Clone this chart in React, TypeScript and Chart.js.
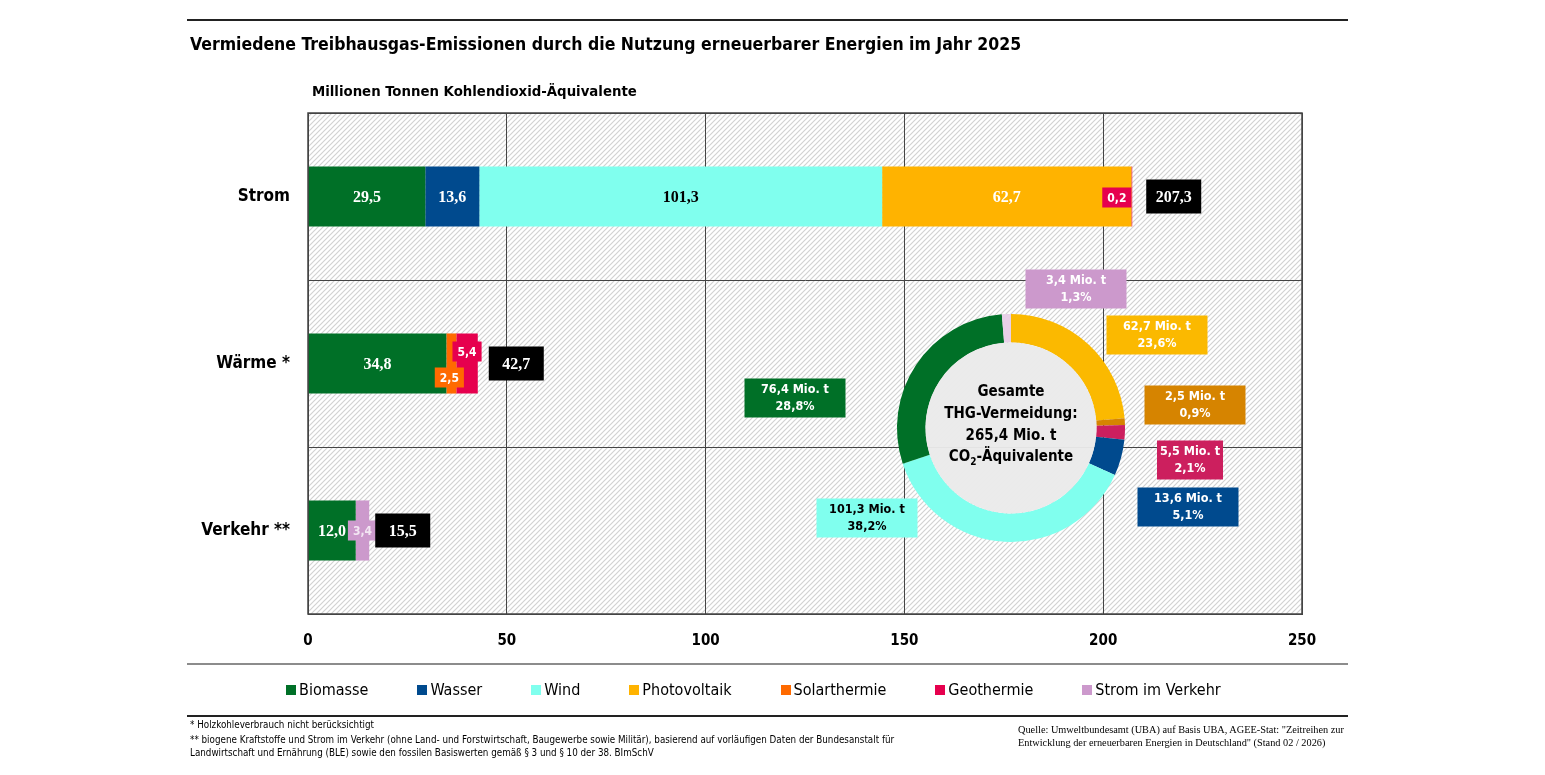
import { useEffect, useRef } from 'react'
import { Chart, registerables } from 'chart.js'

Chart.register(...registerables)

const FONT = "'Liberation Sans Narrow', 'DejaVu Sans Condensed', 'Noto Sans', sans-serif"
const SERIF = "'Liberation Serif', 'DejaVu Serif', serif"

// bar chart data (Mio. t CO2-Äquivalente)
const categories = ['Strom', 'Wärme *', 'Verkehr **']
const seriesNames = ['Biomasse', 'Wasser', 'Wind', 'Photovoltaik', 'Solarthermie', 'Geothermie', 'Strom im Verkehr']
const biomasse = [29.5, 34.8, 12.0]
const wasser = [13.6, null, null]
const wind = [101.3, null, null]
const photovoltaik = [62.7, null, null]
const solarthermie = [null, 2.5, null]
const geothermie = [0.2, 5.4, null]
const stromImVerkehr = [null, null, 3.4]
const totals = [207.3, 42.7, 15.5]
const xTicks = [0, 50, 100, 150, 200, 250]

// donut data
const donutNames = ['Photovoltaik', 'Solarthermie', 'Geothermie', 'Wasser', 'Wind', 'Biomasse', 'Strom im Verkehr']
const donutValues = [62.7, 2.5, 5.5, 13.6, 101.3, 76.4, 3.4]

const barColors = ['#007027', '#004a8e', '#80ffee', '#ffb300', '#ff6a00', '#e6004e', '#cc99cc']
const barTextColors = ['#fff', '#fff', '#000', '#fff', '#fff', '#fff', '#f3e6f3']
const donutColors = ['#fbb900', '#d68400', '#cc1f5e', '#004a8e', '#80ffee', '#007027', '#e8d0e8']
const donutBoxColors = ['#fbb900', '#d68400', '#cc1f5e', '#004a8e', '#80ffee', '#007027', '#cc99cc']
const donutTextColors = ['#fff', '#fff', '#fff', '#fff', '#000', '#fff', '#fff']

// where small segment values get their badge (offset from segment centre)
const badgeOffsets: Record<string, [number, number]> = {
  '5-0': [-15, 1],
  '4-1': [-2, 14],
  '5-1': [0, -12],
  '6-2': [0, 0],
}
// gap between bar end and total box, per category
const totalGaps = [14, 11, 6]
// donut label boxes: centre offset from donut centre, box width
const donutBoxes: [number, number, number][] = [
  [146, -93, 101],
  [184, -23, 101],
  [179, 32, 66],
  [177, 79, 101],
  [-144, 90, 101],
  [-216, -30, 101],
  [65, -139, 101],
]

const fmt = (v: number) => v.toFixed(1).replace('.', ',')

function makeHatch() {
  const c = document.createElement('canvas')
  c.width = 5
  c.height = 5
  const g = c.getContext('2d')!
  g.fillStyle = '#fff'
  g.fillRect(0, 0, 5, 5)
  g.strokeStyle = '#d2d2d2'
  g.lineWidth = 1.2
  g.beginPath()
  g.moveTo(-1, 6)
  g.lineTo(6, -1)
  g.moveTo(-1, 1)
  g.lineTo(1, -1)
  g.moveTo(4, 6)
  g.lineTo(6, 4)
  g.stroke()
  return g.createPattern(c, 'repeat')!
}

function BarChart() {
  const canvasRef = useRef<HTMLCanvasElement>(null)
  useEffect(() => {
    if (!canvasRef.current) return
    const hatch = makeHatch()
    const series = [biomasse, wasser, wind, photovoltaik, solarthermie, geothermie, stromImVerkehr]

    const decor = {
      id: 'decor',
      beforeDraw(chart: any) {
        const { ctx, chartArea: a } = chart
        ctx.save()
        ctx.fillStyle = hatch
        ctx.fillRect(a.left, a.top, a.right - a.left, a.bottom - a.top)
        ctx.restore()
      },
      afterDatasetsDraw(chart: any) {
        const { ctx } = chart
        ctx.save()
        ctx.textAlign = 'center'
        ctx.textBaseline = 'middle'
        chart.data.datasets.forEach((ds: any, di: number) => {
          const meta = chart.getDatasetMeta(di)
          meta.data.forEach((el: any, i: number) => {
            const v = ds.data[i]
            if (v == null) return
            const { x, y, base } = el.getProps(['x', 'y', 'base'], true)
            const cx = (x + base) / 2
            const txt = fmt(v)
            if (x - base > 40) {
              ctx.font = `bold 16px ${SERIF}`
              ctx.fillStyle = barTextColors[di]
              ctx.fillText(txt, cx, y + 1)
            } else {
              const off = badgeOffsets[`${di}-${i}`] || [0, 0]
              ctx.font = `bold 12px ${FONT}`
              const w = ctx.measureText(txt).width + 10
              const bx = cx + off[0]
              const by = y + off[1]
              ctx.fillStyle = barColors[di]
              ctx.fillRect(bx - w / 2, by - 10, w, 20)
              ctx.fillStyle = barTextColors[di]
              ctx.fillText(txt, bx, by + 1)
            }
          })
        })
        // totals
        const xs = chart.scales.x
        const yMeta = chart.getDatasetMeta(0)
        totals.forEach((t, i) => {
          const end = series.reduce((s, arr) => s + (arr[i] || 0), 0)
          const left = xs.getPixelForValue(end) + totalGaps[i]
          const y = yMeta.data[i].y
          ctx.fillStyle = '#000'
          ctx.fillRect(left, y - 17, 55, 34)
          ctx.fillStyle = '#fff'
          ctx.font = `bold 16px ${SERIF}`
          ctx.fillText(fmt(t), left + 27.5, y + 1)
        })
        ctx.restore()
      },
      afterDraw(chart: any) {
        const { ctx, chartArea: a } = chart
        ctx.save()
        ctx.strokeStyle = '#444'
        ctx.lineWidth = 1.5
        ctx.strokeRect(a.left, a.top, a.right - a.left, a.bottom - a.top)
        ctx.restore()
      },
    }

    const chart = new Chart(canvasRef.current, {
      type: 'bar',
      data: {
        labels: categories,
        datasets: series.map((d, i) => ({
          label: seriesNames[i],
          data: d,
          backgroundColor: barColors[i],
          borderWidth: 0,
          barPercentage: 0.36,
          categoryPercentage: 1,
        })),
      },
      options: {
        indexAxis: 'y',
        responsive: false,
        animation: false,
        layout: { padding: { left: 0, top: 113, right: 243, bottom: 121 } },
        plugins: { legend: { display: false }, tooltip: { enabled: false } },
        scales: {
          x: {
            stacked: true,
            min: 0,
            max: 250,
            afterBuildTicks: (s: any) => { s.ticks = xTicks.map((value) => ({ value })) },
            afterFit: (s: any) => { s.height = 40 },
            grid: { color: '#444', lineWidth: 1, drawTicks: false },
            border: { display: true, color: '#444' },
            ticks: { color: '#000', padding: 18, font: { family: FONT, size: 15, weight: 'bold' } },
          },
          y: {
            stacked: true,
            afterFit: (s: any) => { s.width = 308 },
            grid: { color: '#444', lineWidth: 1, drawTicks: false },
            border: { display: true, color: '#444' },
            ticks: { color: '#000', padding: 18, font: { family: FONT, size: 17, weight: 'bold' } },
          },
        },
      },
      plugins: [decor],
    } as any)
    return () => { chart.destroy() }
  }, [])

  return <canvas ref={canvasRef} width={1545} height={775} style={{ position: 'absolute', left: 0, top: 0 }} />
}

function DonutChart() {
  const canvasRef = useRef<HTMLCanvasElement>(null)
  useEffect(() => {
    if (!canvasRef.current) return
    const total = donutValues.reduce((s, v) => s + v, 0)

    const decor = {
      id: 'donutDecor',
      afterDatasetsDraw(chart: any) {
        const { ctx } = chart
        const arc = chart.getDatasetMeta(0).data[0]
        const { x, y, innerRadius } = arc.getProps(['x', 'y', 'innerRadius'], true)
        ctx.save()
        ctx.fillStyle = 'rgba(234,234,234,0.96)'
        ctx.beginPath()
        ctx.arc(x, y, innerRadius, 0, Math.PI * 2)
        ctx.fill()

        ctx.fillStyle = '#000'
        ctx.textAlign = 'center'
        ctx.textBaseline = 'middle'
        const big = `bold 15px ${FONT}`
        const small = `bold 10px ${FONT}`
        ctx.font = big
        ctx.fillText('Gesamte', x, y - 36)
        ctx.fillText('THG-Vermeidung:', x, y - 14)
        ctx.fillText(`${fmt(total)} Mio. t`, x, y + 8)
        // CO2-Äquivalente with subscript
        const a = 'CO'
        const b = '-Äquivalente'
        const wa = ctx.measureText(a).width
        const wb = ctx.measureText(b).width
        ctx.font = small
        const ws = ctx.measureText('2').width
        let left = x - (wa + ws + wb) / 2
        ctx.textAlign = 'left'
        ctx.font = big
        ctx.fillText(a, left, y + 29)
        left += wa
        ctx.font = small
        ctx.fillText('2', left, y + 34)
        left += ws
        ctx.font = big
        ctx.fillText(b, left, y + 29)

        // label boxes
        ctx.textAlign = 'center'
        ctx.font = `bold 12.5px ${FONT}`
        donutValues.forEach((v, i) => {
          const [dx, dy, w] = donutBoxes[i]
          const bx = x + dx
          const by = y + dy
          ctx.fillStyle = donutBoxColors[i]
          ctx.fillRect(bx - w / 2, by - 19.5, w, 39)
          ctx.fillStyle = donutTextColors[i]
          ctx.fillText(`${fmt(v)} Mio. t`, bx, by - 8)
          ctx.fillText(`${fmt((v / total) * 100)}%`, bx, by + 9)
        })
        ctx.restore()
      },
    }

    const chart = new Chart(canvasRef.current, {
      type: 'doughnut',
      data: {
        labels: donutNames,
        datasets: [{ data: donutValues, backgroundColor: donutColors, borderWidth: 0 }],
      },
      options: {
        responsive: false,
        animation: false,
        cutout: '75%',
        layout: { padding: { left: 167, right: 135, top: 59, bottom: 13 } },
        plugins: { legend: { display: false }, tooltip: { enabled: false } },
      },
      plugins: [decor],
    } as any)
    return () => { chart.destroy() }
  }, [])

  return <canvas ref={canvasRef} width={530} height={300} style={{ position: 'absolute', left: 730, top: 255 }} />
}

const rule = (top: number, color: string) => (
  <div style={{ position: 'absolute', left: 187, top, width: 1161, height: 2, background: color }} />
)

export default function App() {
  return (
    <div style={{ position: 'absolute', left: 0, top: 0, width: 1545, height: 775, background: '#fff', fontFamily: FONT, color: '#000', overflow: 'hidden' }}>
      <BarChart />
      <DonutChart />
      {rule(19, '#222')}
      <div style={{ position: 'absolute', left: 190, top: 34, fontSize: 17.5, fontWeight: 'bold', whiteSpace: 'nowrap' }}>
        Vermiedene Treibhausgas-Emissionen durch die Nutzung erneuerbarer Energien im Jahr 2025
      </div>
      <div style={{ position: 'absolute', left: 312, top: 82, fontSize: 14.8, fontWeight: 'bold', whiteSpace: 'nowrap' }}>
        Millionen Tonnen Kohlendioxid-Äquivalente
      </div>
      {rule(663, '#8c8c8c')}
      <div style={{ position: 'absolute', left: 286, top: 680, display: 'flex', gap: 49, fontSize: 16, whiteSpace: 'nowrap' }}>
        {seriesNames.map((n, i) => (
          <div key={n} style={{ display: 'flex', alignItems: 'center' }}>
            <span style={{ width: 10, height: 10, background: barColors[i], marginRight: 3, display: 'inline-block' }} />
            {n}
          </div>
        ))}
      </div>
      {rule(715, '#222')}
      <div style={{ position: 'absolute', left: 190, top: 717, fontSize: 9.75, lineHeight: '15px', whiteSpace: 'nowrap' }}>
        <div>* Holzkohleverbrauch nicht berücksichtigt</div>
        <div>** biogene Kraftstoffe und Strom im Verkehr (ohne Land- und Forstwirtschaft, Baugewerbe sowie Militär), basierend auf vorläufigen Daten der Bundesanstalt für</div>
        <div style={{ marginTop: -2 }}>Landwirtschaft und Ernährung (BLE) sowie den fossilen Basiswerten gemäß § 3 und § 10 der 38. BImSchV</div>
      </div>
      <div style={{ position: 'absolute', left: 1018, top: 723, fontSize: 10.3, lineHeight: '13px', fontFamily: SERIF, whiteSpace: 'nowrap' }}>
        <div>Quelle: Umweltbundesamt (UBA) auf Basis UBA, AGEE-Stat: "Zeitreihen zur</div>
        <div>Entwicklung der erneuerbaren Energien in Deutschland" (Stand 02 / 2026)</div>
      </div>
    </div>
  )
}
